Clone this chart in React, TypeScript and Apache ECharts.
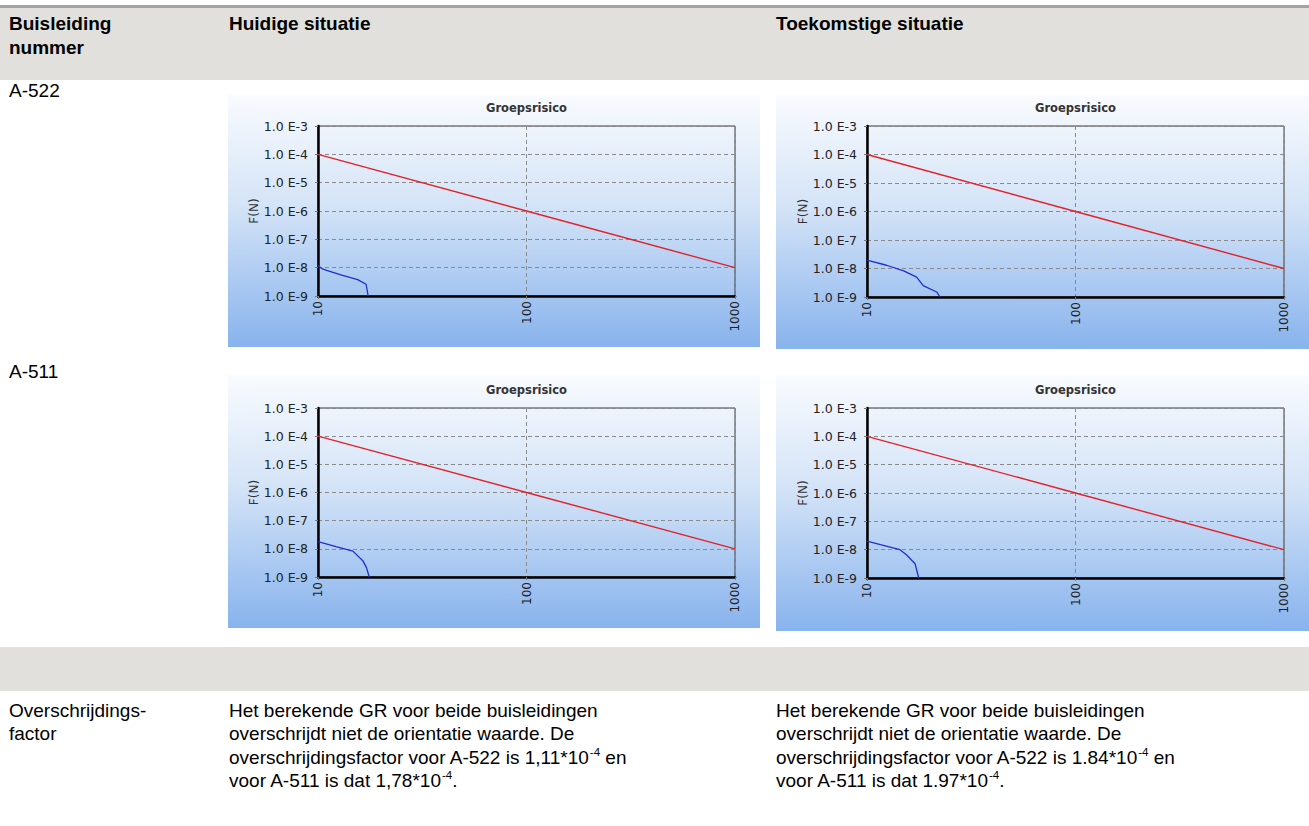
import React, { useEffect, useRef } from "react";
import * as echarts from "echarts";

const PAGE_W = 1309;
const PAGE_H = 826;

// Orientation value (oriëntatiewaarde) line: F = 1e-2 / N^2
const orientatieN = [10, 100, 1000];
const orientatieF = [1e-4, 1e-6, 1e-8];

// FN curves per pipeline and situation
const a522HuidigN = [10, 10.5, 11, 13, 15.5, 17, 17.4];
const a522HuidigF = [1.2e-8, 9e-9, 8e-9, 5.5e-9, 3.8e-9, 2.6e-9, 1e-9];
const a522ToekomstN = [10, 12.4, 15, 17.3, 18.6, 21.6, 22.4];
const a522ToekomstF = [1.95e-8, 1.3e-8, 8.3e-9, 5e-9, 2.5e-9, 1.5e-9, 1e-9];
const a511HuidigN = [10, 12.2, 14.7, 16.4, 17.1, 17.6];
const a511HuidigF = [1.8e-8, 1.2e-8, 8.3e-9, 3.8e-9, 2.1e-9, 1e-9];
const a511ToekomstN = [10, 11.6, 14.4, 15.5, 17, 17.7];
const a511ToekomstF = [2e-8, 1.5e-8, 1e-8, 6.5e-9, 3.2e-9, 1e-9];

const chartTitle = "Groepsrisico";
const yAxisName = "F(N)";
const xMin = 10;
const xMax = 1000;
const yMin = 1e-9;
const yMax = 1e-3;

const headerCols = ["Huidige situatie", "Toekomstige situatie"];
const rowLabels = ["A-522", "A-511"];

const TABLE_FONT = "'Liberation Sans', Arial, sans-serif";
const CHART_FONT = "'DejaVu Sans', Tahoma, sans-serif";

const panels = [
  { bg: [228, 95, 532, 252], grid: { left: 318, top: 126, width: 417, height: 170 }, n: a522HuidigN, f: a522HuidigF },
  { bg: [776, 95, 533, 254], grid: { left: 867, top: 126, width: 417, height: 171 }, n: a522ToekomstN, f: a522ToekomstF },
  { bg: [228, 375, 532, 253], grid: { left: 318, top: 408, width: 417, height: 169 }, n: a511HuidigN, f: a511HuidigF },
  { bg: [776, 375, 533, 256], grid: { left: 867, top: 408, width: 417, height: 170 }, n: a511ToekomstN, f: a511ToekomstF },
];

const zip = (a: number[], b: number[]) => a.map((v, i) => [v, b[i]]);

function tableText(x: number, y: number, text: string, bold = false, rich?: any) {
  return {
    type: "text",
    x,
    y,
    z: 5,
    style: {
      text,
      fontFamily: TABLE_FONT,
      fontSize: 19,
      fontWeight: bold ? "bold" : "normal",
      fill: "#000",
      align: "left",
      verticalAlign: "middle",
      lineHeight: 22,
      rich,
    },
  };
}

const supRich = {
  sup: { fontSize: 11.5, fontFamily: TABLE_FONT, fill: "#000", verticalAlign: "top", lineHeight: 22 },
};

function buildOption() {
  const graphic: any[] = [];
  // table header band, top rule and empty shaded row
  graphic.push({ type: "rect", shape: { x: 0, y: 5, width: PAGE_W, height: 3 }, style: { fill: "#a3a3a3" }, z: -20 });
  graphic.push({ type: "rect", shape: { x: 0, y: 8, width: PAGE_W, height: 72 }, style: { fill: "#e1e0dc" }, z: -20 });
  graphic.push({ type: "rect", shape: { x: 0, y: 647, width: PAGE_W, height: 44 }, style: { fill: "#e1e0dc" }, z: -20 });

  graphic.push(tableText(9, 23, "Buisleiding", true));
  graphic.push(tableText(9, 47, "nummer", true));
  graphic.push(tableText(229, 23, headerCols[0], true));
  graphic.push(tableText(776, 23, headerCols[1], true));
  graphic.push(tableText(9, 90, rowLabels[0]));
  graphic.push(tableText(9, 371, rowLabels[1]));

  graphic.push(tableText(9, 710, "Overschrijdings-"));
  graphic.push(tableText(9, 733, "factor"));

  const linesLeft = [
    "Het berekende GR voor beide buisleidingen",
    "overschrijdt niet de orientatie waarde. De",
    "overschrijdingsfactor voor A-522 is 1,11*10{sup|-4} en",
    "voor A-511 is dat 1,78*10{sup|-4}.",
  ];
  const linesRight = [
    "Het berekende GR voor beide buisleidingen",
    "overschrijdt niet de orientatie waarde. De",
    "overschrijdingsfactor voor A-522 is 1.84*10{sup|-4} en",
    "voor A-511 is dat 1.97*10{sup|-4}.",
  ];
  const lineYs = [710, 733, 757, 780];
  linesLeft.forEach((t, i) => graphic.push(tableText(229, lineYs[i], t, false, supRich)));
  linesRight.forEach((t, i) => graphic.push(tableText(776, lineYs[i], t, false, supRich)));

  // chart backgrounds and titles
  panels.forEach((p) => {
    graphic.push({
      type: "rect",
      z: -20,
      shape: { x: p.bg[0], y: p.bg[1], width: p.bg[2], height: p.bg[3] },
      style: {
        fill: new echarts.graphic.LinearGradient(0, 0, 0, 1, [
          { offset: 0, color: "#f9fbfe" },
          { offset: 0.45, color: "#d3e3f7" },
          { offset: 1, color: "#88b3ed" },
        ]),
      },
    });
    graphic.push({
      type: "text",
      z: 5,
      x: p.grid.left + p.grid.width / 2,
      y: p.grid.top - 18,
      style: {
        text: chartTitle,
        fontFamily: CHART_FONT,
        fontSize: 11.5,
        fontWeight: "bold",
        fill: "#333",
        align: "center",
        verticalAlign: "middle",
      },
    });
  });

  const grid = panels.map((p) => ({
    ...p.grid,
    show: true,
    backgroundColor: "transparent",
    borderColor: "#3a3a3a",
    borderWidth: 1,
  }));

  const xAxis = panels.map((_, i) => ({
    type: "log",
    logBase: 10,
    gridIndex: i,
    min: xMin,
    max: xMax,
    axisLine: { show: true, onZero: false, lineStyle: { color: "#000", width: 2.5 } },
    axisTick: { show: true, length: 3, lineStyle: { color: "#777" } },
    axisLabel: {
      rotate: 90,
      margin: 5,
      fontFamily: CHART_FONT,
      fontSize: 12,
      color: "#222",
      formatter: (v: number) => String(Math.round(v)),
    },
    splitLine: { show: true, lineStyle: { color: "#8a8a8a", type: [4, 3], width: 1 } },
  }));

  const yAxis = panels.map((_, i) => ({
    type: "log",
    logBase: 10,
    gridIndex: i,
    min: yMin,
    max: yMax,
    name: yAxisName,
    nameLocation: "middle",
    nameGap: 58,
    nameRotate: 90,
    nameTextStyle: { fontFamily: CHART_FONT, fontSize: 12, color: "#333" },
    axisLine: { show: true, onZero: false, lineStyle: { color: "#000", width: 2.5 } },
    axisTick: { show: true, length: 3, lineStyle: { color: "#777" } },
    axisLabel: {
      margin: 10,
      fontFamily: CHART_FONT,
      fontSize: 12.5,
      color: "#222",
      formatter: (v: number) => `1.0 E${Math.round(Math.log10(v))}`,
    },
    splitLine: { show: true, lineStyle: { color: "#8a8a8a", type: [4, 3], width: 1 } },
  }));

  const series: any[] = [];
  panels.forEach((p, i) => {
    series.push({
      type: "line",
      xAxisIndex: i,
      yAxisIndex: i,
      data: zip(orientatieN, orientatieF),
      showSymbol: false,
      lineStyle: { color: "#e3222a", width: 1.4 },
      z: 3,
    });
    series.push({
      type: "line",
      xAxisIndex: i,
      yAxisIndex: i,
      data: zip(p.n, p.f),
      showSymbol: false,
      lineStyle: { color: "#1f2fcf", width: 1.3 },
      z: 4,
    });
  });

  return {
    animation: false,
    backgroundColor: "#ffffff",
    graphic,
    grid,
    xAxis,
    yAxis,
    series,
  };
}

export default function App() {
  const ref = useRef<HTMLDivElement>(null);
  useEffect(() => {
    if (!ref.current) return;
    const chart = echarts.init(ref.current, undefined, { renderer: "svg" });
    chart.setOption(buildOption() as any);
    return () => chart.dispose();
  }, []);
  return (
    <div
      ref={ref}
      style={{ position: "absolute", left: 0, top: 0, width: PAGE_W, height: PAGE_H }}
    />
  );
}
